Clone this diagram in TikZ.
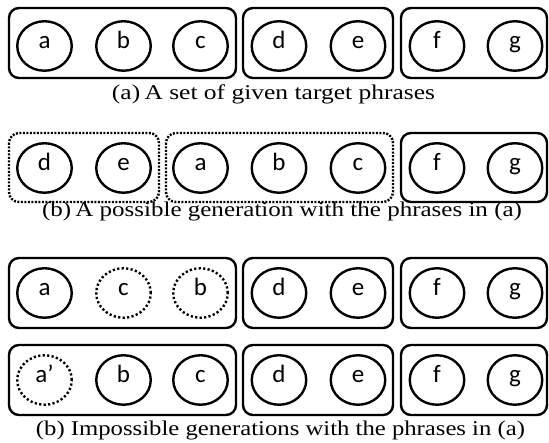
\documentclass[tikz,border=0pt]{standalone}
\usepackage{fontspec}
\usetikzlibrary{shapes.geometric}
\setmainfont{Liberation Serif}
\newfontfamily\lettersfont{Carlito}
\begin{document}
\begin{tikzpicture}[x=1pt,y=-1pt,
  ph/.style={ellipse,draw,line width=2.4pt,minimum width=54.5pt,minimum height=49.5pt,inner sep=0pt,
     text height=1ex,text depth=0pt,font=\lettersfont\fontsize{25}{26}\selectfont},
  dph/.style={ph,dash pattern=on 2.2pt off 2.3pt},
  grp/.style={draw,line width=2.4pt,rounded corners=10pt},
  dgrp/.style={grp,dash pattern=on 2pt off 1.5pt},
  captext/.style={anchor=base,font=\fontsize{21}{21}\selectfont,inner sep=0pt}]
\useasboundingbox (0,0) rectangle (549,443);
% row 1
\draw[grp] (9,8) rectangle (236,78);
\draw[grp] (243,8) rectangle (393,78);
\draw[grp] (401,8) rectangle (547,78);
\node[ph] (a1) at (44.5,46) {a};
\node[ph] (b1) at (123.5,46) {b};
\node[ph] (c1) at (200.5,46) {c};
\node[ph] (d1) at (279,46) {d};
\node[ph] (e1) at (358,46) {e};
\node[ph] (f1) at (437,46) {f};
\node[ph] (g1) at (515,46) {g};
\node[captext] (capa) at (273.5,100) {\resizebox{323pt}{\height}{(a)\,A set of given target phrases}};
% row 2
\draw[dgrp] (9,133) rectangle (159,202);
\draw[dgrp] (166,133) rectangle (393,202);
\draw[grp] (401,133) rectangle (547,202);
\node[ph] (d2) at (44.5,168) {d};
\node[ph] (e2) at (123.5,168) {e};
\node[ph] (a2) at (200.5,168) {a};
\node[ph] (b2) at (279,168) {b};
\node[ph] (c2) at (358,168) {c};
\node[ph] (f2) at (437,168) {f};
\node[ph] (g2) at (515,168) {g};
\node[captext] (capb) at (282,217) {\resizebox{480pt}{\height}{(b)\,A possible generation with the phrases in (a)}};
% row 3
\draw[grp] (9,258) rectangle (236,328);
\draw[grp] (243,258) rectangle (393,328);
\draw[grp] (401,258) rectangle (547,328);
\node[ph] (a3) at (44.5,293) {a};
\node[dph] (c3) at (123.5,293) {c};
\node[dph] (b3) at (200.5,293) {b};
\node[ph] (d3) at (279,293) {d};
\node[ph] (e3) at (358,293) {e};
\node[ph] (f3) at (437,293) {f};
\node[ph] (g3) at (515,293) {g};
% row 4
\draw[grp] (9,345) rectangle (236,415);
\draw[grp] (243,345) rectangle (393,415);
\draw[grp] (401,345) rectangle (547,415);
\node[dph] (a4) at (44.5,380) {a’};
\node[ph] (b4) at (123.5,380) {b};
\node[ph] (c4) at (200.5,380) {c};
\node[ph] (d4) at (279,380) {d};
\node[ph] (e4) at (358,380) {e};
\node[ph] (f4) at (437,380) {f};
\node[ph] (g4) at (515,380) {g};
\node[captext] (capc) at (280.5,436) {\resizebox{489pt}{\height}{(b) Impossible generations with the phrases in (a)}};
\end{tikzpicture}
\end{document}
